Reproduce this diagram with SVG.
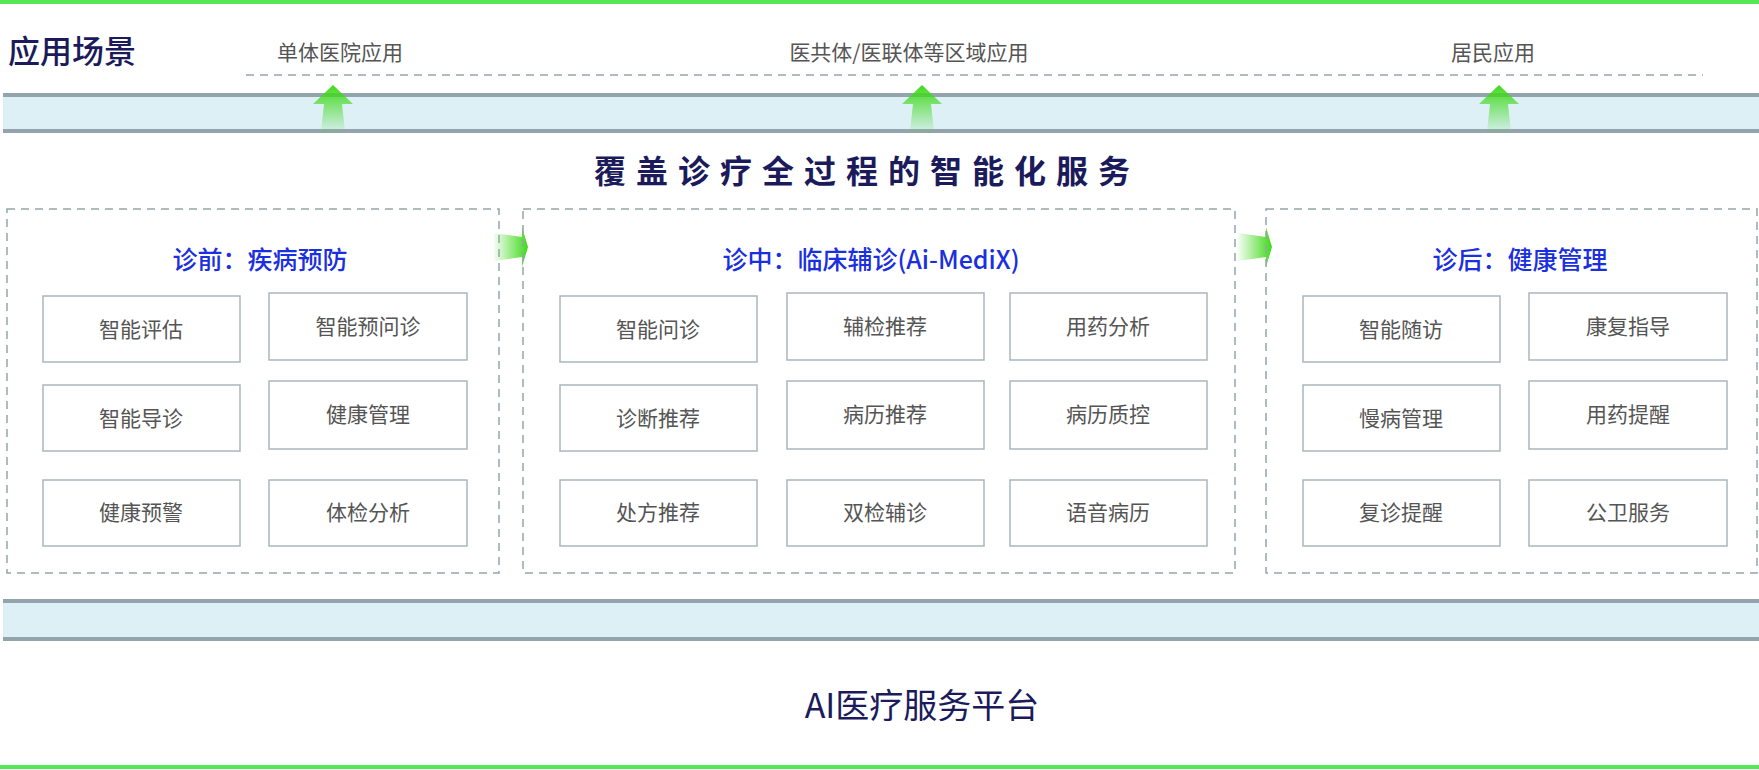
<svg xmlns="http://www.w3.org/2000/svg" width="1759" height="770" viewBox="0 0 1759 770">
<defs>
<style>
text{font-family:"Noto Sans CJK SC","Liberation Sans",sans-serif}
.sub{font-size:21px;fill:#555;text-anchor:middle}
.sec{font-size:25px;fill:#1a2fe0;text-anchor:middle;font-weight:500}
.b rect{fill:#fff;stroke:#a9b6bd;stroke-width:1.5}
.b text{font-size:21px;fill:#555;text-anchor:middle}
.dash{fill:none;stroke:#95a5ab;stroke-width:1.5;stroke-dasharray:8 6}
.band{fill:#dcf0f6}
.bl{stroke:#93a4ac;stroke-width:4}
</style>
<linearGradient id="gu" x1="0" y1="0" x2="0" y2="1"><stop offset="0" stop-color="#3fd91a"/><stop offset="1" stop-color="#3fd91a" stop-opacity="0.05"/></linearGradient>
<linearGradient id="gr" x1="1" y1="0" x2="0" y2="0"><stop offset="0" stop-color="#3fd91a"/><stop offset="1" stop-color="#3fd91a" stop-opacity="0.05"/></linearGradient>
<path id="up" d="M0,-47 L20,-28 L9,-28 L12,0 L-12,0 L-9,-28 L-20,-28 Z" fill="url(#gu)"/>
<path id="rt" d="M0,0 L-6,-20 L-6,-10 L-34,-14 L-34,14 L-6,10 L-6,20 Z" fill="url(#gr)"/>
</defs>
<rect width="1759" height="770" fill="#fff"/>
<line x1="0" y1="2" x2="1759" y2="2" stroke="#55e855" stroke-width="4"/>
<line x1="0" y1="767" x2="1759" y2="767" stroke="#55e855" stroke-width="4"/>
<text x="8" y="63" font-size="32" font-weight="500" fill="#1b1b5c">应用场景</text>
<text class="sub" x="340" y="60">单体医院应用</text>
<text class="sub" x="909" y="60">医共体/医联体等区域应用</text>
<text class="sub" x="1493" y="60">居民应用</text>
<line x1="246" y1="75" x2="1703" y2="75" class="dash"/>
<rect class="band" x="3" y="94" width="1756" height="38"/>
<line class="bl" x1="3" y1="95" x2="1759" y2="95"/><line class="bl" x1="3" y1="131" x2="1759" y2="131"/>
<rect class="band" x="3" y="600" width="1756" height="40"/>
<line class="bl" x1="3" y1="601" x2="1759" y2="601"/><line class="bl" x1="3" y1="639" x2="1759" y2="639"/>
<g id="connectors">
<use href="#up" x="333" y="132"/><use href="#up" x="922" y="132"/><use href="#up" x="1499" y="132"/>
<use href="#rt" x="528" y="247"/><use href="#rt" x="1272" y="247"/>
</g>
<text x="867" y="183" font-size="32" font-weight="bold" fill="#1b1b5c" text-anchor="middle" letter-spacing="10">覆盖诊疗全过程的智能化服务</text>
<rect class="dash" x="7" y="209" width="492" height="364"/>
<rect class="dash" x="523" y="209" width="712" height="364"/>
<rect class="dash" x="1266" y="209" width="491" height="364"/>
<text class="sec" x="260" y="269">诊前：疾病预防</text>
<text class="sec" x="871" y="269">诊中：临床辅诊(Ai-MediX)</text>
<text class="sec" x="1520" y="269">诊后：健康管理</text>
<g class="b">
<g id="n1"><rect x="43" y="296" width="197" height="66"/><text x="141" y="337">智能评估</text></g>
<g id="n2"><rect x="269" y="293" width="198" height="67"/><text x="368" y="334">智能预问诊</text></g>
<g id="n3"><rect x="43" y="385" width="197" height="66"/><text x="141" y="426">智能导诊</text></g>
<g id="n4"><rect x="269" y="381" width="198" height="68"/><text x="368" y="422">健康管理</text></g>
<g id="n5"><rect x="43" y="480" width="197" height="66"/><text x="141" y="520">健康预警</text></g>
<g id="n6"><rect x="269" y="480" width="198" height="66"/><text x="368" y="520">体检分析</text></g>
<g id="m1"><rect x="560" y="296" width="197" height="66"/><text x="658" y="337">智能问诊</text></g>
<g id="m2"><rect x="787" y="293" width="197" height="67"/><text x="885" y="334">辅检推荐</text></g>
<g id="m3"><rect x="1010" y="293" width="197" height="67"/><text x="1108" y="334">用药分析</text></g>
<g id="m4"><rect x="560" y="385" width="197" height="66"/><text x="658" y="426">诊断推荐</text></g>
<g id="m5"><rect x="787" y="381" width="197" height="68"/><text x="885" y="422">病历推荐</text></g>
<g id="m6"><rect x="1010" y="381" width="197" height="68"/><text x="1108" y="422">病历质控</text></g>
<g id="m7"><rect x="560" y="480" width="197" height="66"/><text x="658" y="520">处方推荐</text></g>
<g id="m8"><rect x="787" y="480" width="197" height="66"/><text x="885" y="520">双检辅诊</text></g>
<g id="m9"><rect x="1010" y="480" width="197" height="66"/><text x="1108" y="520">语音病历</text></g>
<g id="p1"><rect x="1303" y="296" width="197" height="66"/><text x="1401" y="337">智能随访</text></g>
<g id="p2"><rect x="1529" y="293" width="198" height="67"/><text x="1628" y="334">康复指导</text></g>
<g id="p3"><rect x="1303" y="385" width="197" height="66"/><text x="1401" y="426">慢病管理</text></g>
<g id="p4"><rect x="1529" y="381" width="198" height="68"/><text x="1628" y="422">用药提醒</text></g>
<g id="p5"><rect x="1303" y="480" width="197" height="66"/><text x="1401" y="520">复诊提醒</text></g>
<g id="p6"><rect x="1529" y="480" width="198" height="66"/><text x="1628" y="520">公卫服务</text></g>
</g>
<text x="922" y="718" font-size="34" fill="#1b1b5c" text-anchor="middle">AI医疗服务平台</text>
</svg>
